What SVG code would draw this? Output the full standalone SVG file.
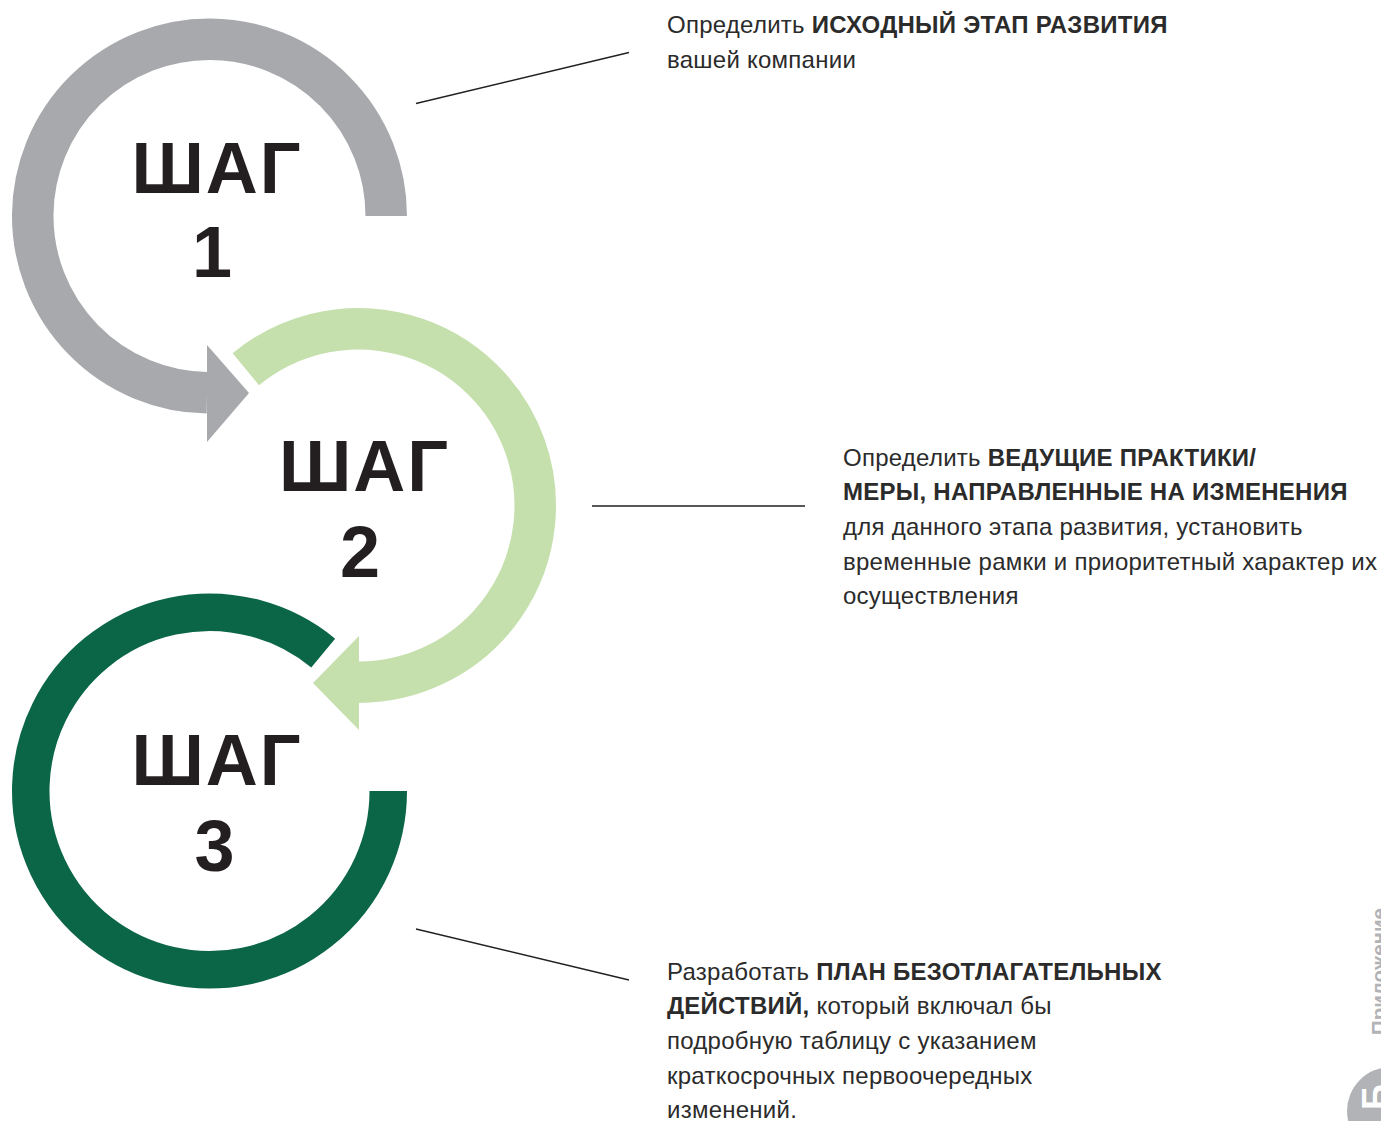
<svg xmlns="http://www.w3.org/2000/svg" width="1381" height="1121" viewBox="0 0 1381 1121">
<style>
.ring{fill:none;stroke-linecap:butt}
.big{font-family:"Liberation Sans",Arial,sans-serif;font-weight:bold;font-size:72px;fill:#231f20;text-anchor:middle}
.sp{letter-spacing:2px}
.body{font-family:"Liberation Sans",Arial,sans-serif;font-size:24px;letter-spacing:0.25px;fill:#2b2b2b}
.b{font-weight:bold}
.conn{stroke:#231f20;stroke-width:1.3;fill:none}
.side{font-family:"Liberation Sans",Arial,sans-serif;font-weight:bold;fill:#b1b3b6}
</style>
<rect width="1381" height="1121" fill="#ffffff"/>
<g id="step1">
<path class="ring" d="M 386.25 216 A 176.75 176.75 0 1 0 207 392.7" stroke="#a7a9ac" stroke-width="41.5"/>
<polygon points="207,345 207,442 249,393" fill="#a7a9ac"/>
<text class="big sp" x="217" y="193">ШАГ</text>
<text class="big" x="212" y="277">1</text>
</g>
<g id="step2">
<path class="ring" d="M 245.84 369.31 A 176.75 176.75 0 1 1 359 682.25" stroke="#c5e0ac" stroke-width="41.5"/>
<polygon points="359,636 359,730 313,683" fill="#c5e0ac"/>
<text class="big sp" x="364.5" y="491">ШАГ</text>
<text class="big" x="360" y="577">2</text>
</g>
<g id="step3">
<path class="ring" d="M 323.2 653.1 A 178.75 178.75 0 1 0 388.25 791" stroke="#0b6547" stroke-width="37.5"/>
<text class="big sp" x="217" y="785">ШАГ</text>
<text class="big" x="214.5" y="871">3</text>
</g>
<g id="connectors">
<line class="conn" x1="416" y1="103.5" x2="629" y2="52.5"/>
<line class="conn" x1="592" y1="506" x2="805" y2="506"/>
<line class="conn" x1="416" y1="929" x2="629" y2="980"/>
</g>
<g id="text1">
<text class="body" x="667" y="32.5">Определить <tspan class="b">ИСХОДНЫЙ ЭТАП РАЗВИТИЯ</tspan></text>
<text class="body" x="667" y="68">вашей компании</text>
</g>
<g id="text2">
<text class="body" x="843" y="465.5">Определить <tspan class="b">ВЕДУЩИЕ ПРАКТИКИ/</tspan></text>
<text class="body b" x="843" y="500.2">МЕРЫ, НАПРАВЛЕННЫЕ НА ИЗМЕНЕНИЯ</text>
<text class="body" x="843" y="534.9">для данного этапа развития, установить</text>
<text class="body" x="843" y="569.6">временные рамки и приоритетный характер их</text>
<text class="body" x="843" y="604.3">осуществления</text>
</g>
<g id="text3">
<text class="body" x="667" y="979.5">Разработать <tspan class="b">ПЛАН БЕЗОТЛАГАТЕЛЬНЫХ</tspan></text>
<text class="body" x="667" y="1014.2"><tspan class="b">ДЕЙСТВИЙ,</tspan> который включал бы</text>
<text class="body" x="667" y="1048.9">подробную таблицу с указанием</text>
<text class="body" x="667" y="1083.6">краткосрочных первоочередных</text>
<text class="body" x="667" y="1118.3">изменений.</text>
</g>
<g id="sidebar">
<text class="side" font-size="20.5" transform="translate(1386,1035) rotate(-90)">Приложение</text>
<circle cx="1391" cy="1111" r="44" fill="#b1b3b6"/>
<text font-family="'Liberation Sans',Arial,sans-serif" font-weight="bold" font-size="36" fill="#ffffff" transform="translate(1388,1110) rotate(-90)">Б</text>
</g>
</svg>
